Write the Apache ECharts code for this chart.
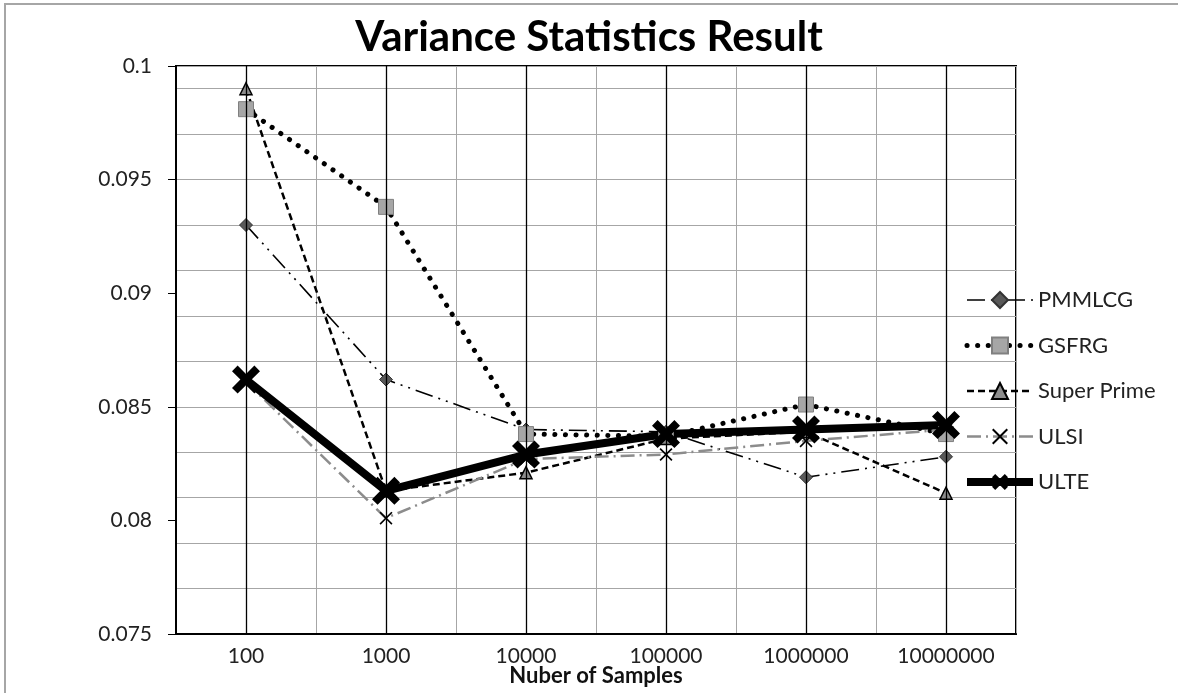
<!DOCTYPE html>
<html>
<head>
<meta charset="utf-8">
<title>Variance Statistics Result</title>
<script src="https://cdn.jsdelivr.net/npm/echarts@6/dist/echarts.min.js"></script>
<style>
  html, body { margin: 0; padding: 0; background: #fff; }
  #main { width: 1178px; height: 693px; }
</style>
</head>
<body>
<div id="main"></div>
<script>
// 横轴类别（样本数）
var samples = ['100', '1000', '10000', '100000', '1000000', '10000000']
// 各算法的方差统计值
var pmmlcg = [0.0930, 0.0862, 0.0840, 0.0839, 0.0819, 0.0828]
var gsfrg = [0.0981, 0.0938, 0.0838, 0.0837, 0.0851, 0.0838]
var superPrime = [0.0990, 0.0813, 0.0821, 0.0836, 0.0839, 0.0812]
var ulsi = [0.0861, 0.0801, 0.0827, 0.0829, 0.0835, 0.0840]
var ulte = [0.0862, 0.0813, 0.0829, 0.0838, 0.0840, 0.0842]
// 纵轴刻度
var yTicks = [0.075, 0.08, 0.085, 0.09, 0.095, 0.1]

var font = 'Lato, "Open Sans", sans-serif'
// 粗 X 和细 × 标记
var bigX = 'path://M0,2 L2,0 L5,3 L8,0 L10,2 L7,5 L10,8 L8,10 L5,7 L2,10 L0,8 L3,5 Z'
var thinX = 'path://M0,0.9 L0.9,0 L5,4.1 L9.1,0 L10,0.9 L5.9,5 L10,9.1 L9.1,10 L5,5.9 L0.9,10 L0,9.1 L4.1,5 Z'

var myChart = echarts.init(document.getElementById('main'))

var option = {
  backgroundColor: '#fff',
  animation: false,
  textStyle: { fontFamily: font },
  graphic: [{
    type: 'rect',
    shape: { x: 5, y: 4, width: 1400, height: 900 },
    style: { fill: 'none', stroke: '#a6a6a6', lineWidth: 2 },
    silent: true
  }],
  title: {
    text: 'Variance Statistics Result',
    left: 'center',
    top: 11,
    textStyle: { fontFamily: font, fontSize: 42, fontWeight: 'bold', color: '#000' }
  },
  legend: {
    orient: 'vertical',
    left: 958,
    top: 283,
    itemWidth: 66,
    itemHeight: 20,
    itemGap: 21.5,
    lineStyle: { width: 'inherit' },
    textStyle: { fontFamily: font, fontSize: 22, lineHeight: 24, color: '#222' },
    data: ['PMMLCG', 'GSFRG', 'Super Prime', 'ULSI', 'ULTE']
  },
  grid: {
    left: 176,
    top: 66,
    width: 840,
    height: 568,
    outerBoundsMode: 'none',
    show: true,
    borderColor: '#000',
    borderWidth: 2
  },
  xAxis: {
    type: 'category',
    data: samples,
    name: 'Nuber of Samples',
    nameLocation: 'middle',
    nameGap: 31,
    nameMoveOverlap: false,
    nameTextStyle: { fontFamily: font, fontSize: 22, fontWeight: 'bold', color: '#111' },
    axisLine: { lineStyle: { color: '#000', width: 2 } },
    axisTick: { length: 8, lineStyle: { color: '#000' } },
    axisLabel: { fontFamily: font, fontSize: 21, color: '#222', margin: 12 },
    splitLine: { show: true, interval: 0, lineStyle: { color: '#a6a6a6', width: 1 } }
  },
  yAxis: [{
    type: 'value',
    min: yTicks[0],
    max: yTicks[yTicks.length - 1],
    interval: 0.005,
    axisLine: { show: true, lineStyle: { color: '#000', width: 2 } },
    axisTick: { show: true, inside: false, length: 8, lineStyle: { color: '#000' } },
    axisLabel: { fontFamily: font, fontSize: 21, color: '#222', margin: 24 },
    splitLine: { show: false }
  }, {
    // 次网格线：每 0.002 一条
    type: 'value',
    min: 0.075,
    max: 0.1,
    interval: 0.002,
    position: 'left',
    axisLine: { show: false },
    axisTick: { show: false },
    axisLabel: { show: false },
    splitLine: { show: true, lineStyle: { color: '#a6a6a6', width: 1 } }
  }],
  series: [
    {
      // 类别处的黑色竖线
      type: 'line',
      data: [],
      z: 1,
      silent: true,
      markLine: {
        silent: true,
        symbol: 'none',
        label: { show: false },
        lineStyle: { color: '#000', width: 1.3, type: 'solid' },
        data: samples.map(function (s) { return { xAxis: s } })
      }
    },
    {
      name: 'PMMLCG',
      type: 'line',
      data: pmmlcg,
      symbol: 'diamond',
      symbolSize: 13,
      itemStyle: { color: '#595959', borderColor: '#333', borderWidth: 1 },
      lineStyle: { color: '#000', width: 1.6, type: [18, 6, 2, 6, 2, 6] }
    },
    {
      name: 'GSFRG',
      type: 'line',
      data: gsfrg,
      symbol: 'rect',
      symbolSize: 15,
      itemStyle: { color: '#a6a6a6', borderColor: '#808080', borderWidth: 1 },
      lineStyle: { color: '#000', width: 5, type: [0.1, 10.5], cap: 'round' }
    },
    {
      name: 'Super Prime',
      type: 'line',
      data: superPrime,
      symbol: 'triangle',
      symbolSize: 12,
      itemStyle: { color: '#8c8c8c', borderColor: '#000', borderWidth: 1.5 },
      lineStyle: { color: '#000', width: 2.5, type: [7, 4] }
    },
    {
      name: 'ULSI',
      type: 'line',
      data: ulsi,
      symbol: thinX,
      symbolSize: 13,
      itemStyle: { color: '#000' },
      lineStyle: { color: '#8c8c8c', width: 2.5, type: [14, 5, 2, 5] }
    },
    {
      name: 'ULTE',
      type: 'line',
      data: ulte,
      symbol: bigX,
      symbolSize: 28,
      itemStyle: { color: '#000' },
      lineStyle: { color: '#000', width: 8 }
    }
  ]
}

myChart.setOption(option)
</script>
</body>
</html>
